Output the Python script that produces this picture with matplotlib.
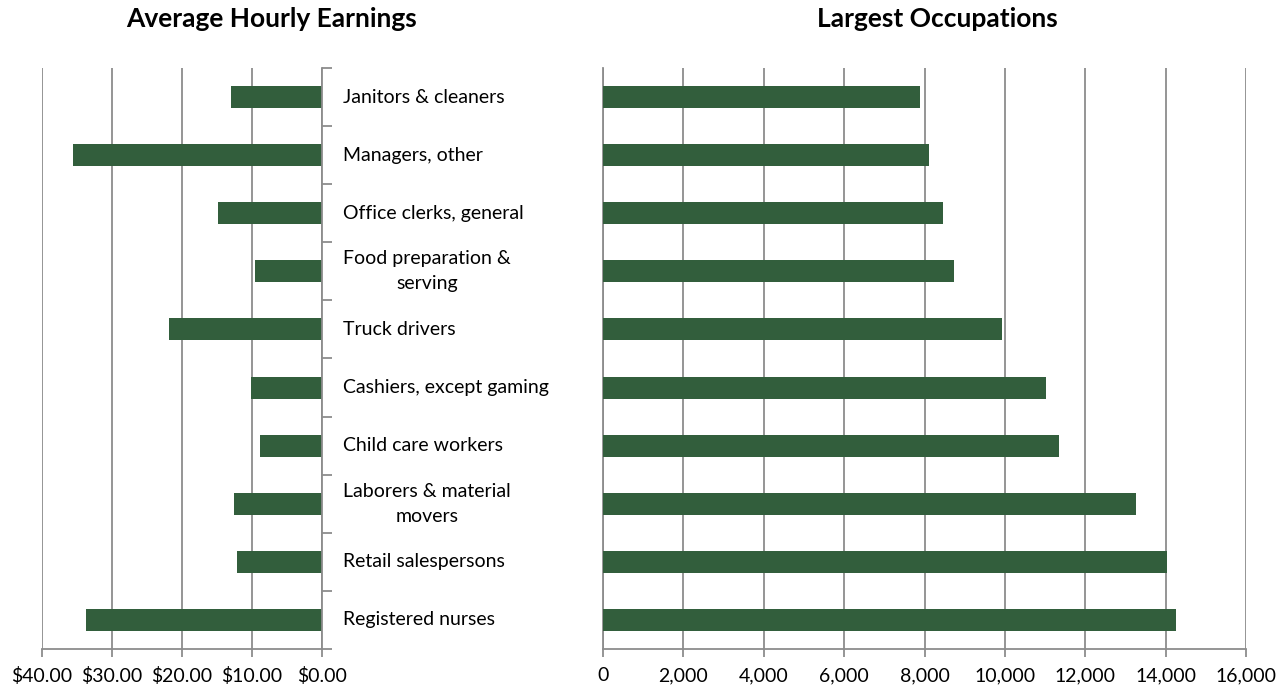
import matplotlib
matplotlib.use('Agg')
import matplotlib.pyplot as plt
import matplotlib.transforms as mtransforms
import numpy as np

plt.rcParams['font.family'] = ['Lato', 'DejaVu Sans']

jobs = ['Janitors & cleaners', 'Managers, other', 'Office clerks, general',
        'Food preparation &\nserving', 'Truck drivers', 'Cashiers, except gaming',
        'Child care workers', 'Laborers & material\nmovers', 'Retail salespersons',
        'Registered nurses']
wage = [13.0, 35.6, 14.9, 9.6, 21.8, 10.1, 8.9, 12.6, 12.1, 33.7]
count = [7900, 8110, 8460, 8730, 9930, 11020, 11340, 13260, 14030, 14260]
wage_ticks = [40, 30, 20, 10, 0]
wage_labels = ['$40.00', '$30.00', '$20.00', '$10.00', '$0.00']
count_ticks = [0, 2000, 4000, 6000, 8000, 10000, 12000, 14000, 16000]

green = '#325e3c'
grid = '#8c8c8c'

fig = plt.figure(figsize=(12.87, 6.93), dpi=100)
ax1 = fig.add_axes([42/1287, 44/693, 280/1287, 581/693])
ax2 = fig.add_axes([603/1287, 44/693, 643/1287, 581/693])

y = np.arange(len(jobs))

# left panel, reversed x
ax1.barh(y, wage, height=0.38, color=green, zorder=3)
ax1.set_xlim(40, 0)
ax1.set_ylim(len(jobs) - 0.5, -0.5)
ax1.set_xticks(wage_ticks)
ax1.set_xticklabels(wage_labels)
ax1.set_yticks(np.arange(len(jobs) + 1) - 0.5)
ax1.set_yticklabels([])
ax1.yaxis.tick_right()
ax1.tick_params(axis='y', direction='out', length=7, color=grid, width=1.3)
ax1.tick_params(axis='x', direction='out', length=6, color=grid, width=1.3,
                labelsize=14, pad=7)
ax1.grid(axis='x', color=grid, linewidth=1.3, zorder=0)
for s in ['top', 'left']:
    ax1.spines[s].set_visible(False)
for s in ['right', 'bottom']:
    ax1.spines[s].set_color(grid)
    ax1.spines[s].set_linewidth(1.3)
    ax1.spines[s].set_zorder(4)

# category names sit between the two panels
tr = mtransforms.blended_transform_factory(fig.transFigure, ax1.transData)
for i, lab in enumerate(jobs):
    ax1.text(343/1287, i, lab, transform=tr, fontsize=14, ha='left', va='center',
             multialignment='center', linespacing=1.55)

# right panel
ax2.barh(y, count, height=0.38, color=green, zorder=3)
ax2.set_xlim(0, 16000)
ax2.set_ylim(len(jobs) - 0.5, -0.5)
ax2.set_xticks(count_ticks)
ax2.set_xticklabels([f'{v:,}' for v in count_ticks])
ax2.set_yticks([])
ax2.tick_params(axis='x', direction='out', length=6, color=grid, width=1.3,
                labelsize=14, pad=7)
ax2.grid(axis='x', color=grid, linewidth=1.3, zorder=0)
for s in ['top', 'right']:
    ax2.spines[s].set_visible(False)
for s in ['left', 'bottom']:
    ax2.spines[s].set_color(grid)
    ax2.spines[s].set_linewidth(1.3)

fig.text(272/1287, 1 - 19/693, 'Average Hourly Earnings', ha='center', va='center',
         fontsize=19, fontweight='bold')
fig.text(937/1287, 1 - 19/693, 'Largest Occupations', ha='center', va='center',
         fontsize=19, fontweight='bold')

fig.savefig('out.png', dpi=100)
